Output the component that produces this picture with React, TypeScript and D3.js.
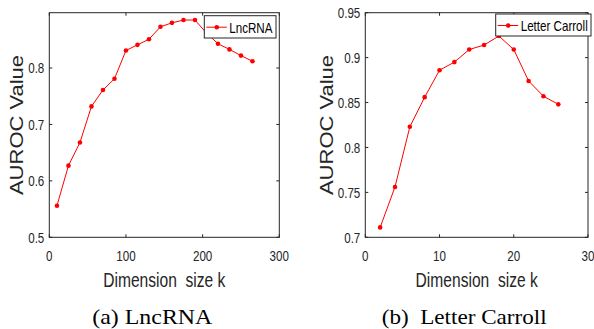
import React from "react";
import * as d3 from "d3";

const lncK = [10, 25, 40, 55, 70, 85, 100, 115, 130, 145, 160, 175, 190, 205, 220, 235, 250, 265];
const lncAuroc = [0.556, 0.627, 0.668, 0.732, 0.761, 0.781, 0.831, 0.841, 0.851, 0.873, 0.880, 0.885, 0.885, 0.862, 0.843, 0.833, 0.822, 0.812];
const lncXTicks = [0, 100, 200, 300];
const lncYTicks = [0.5, 0.6, 0.7, 0.8];

const letK = [2, 4, 6, 8, 10, 12, 14, 16, 18, 20, 22, 24, 26];
const letAuroc = [0.711, 0.756, 0.823, 0.856, 0.886, 0.895, 0.909, 0.914, 0.924, 0.909, 0.874, 0.857, 0.848];
const letXTicks = [0, 10, 20, 30];
const letYTicks = [0.7, 0.75, 0.8, 0.85, 0.9, 0.95];

const SANS = "'Liberation Sans', Arial, Helvetica, sans-serif";
const SERIF = "'Liberation Serif', 'Times New Roman', serif";
const AX = "#262626";
const SX = 0.8; // horizontal compression of the figure's glyphs

type PanelProps = {
  xs: number[]; ys: number[];
  xDomain: [number, number]; yDomain: [number, number];
  xTicks: number[]; yTicks: number[];
  left: number; right: number; top: number; bottom: number;
  legend: string; legendBox: [number, number, number, number];
  yLabelX: number; caption: string; captionX: number; captionLen: number;
  yFmt: (v: number) => string;
};

function HText(props: { x: number; y: number; size: number; anchor?: string; children: string; fill?: string }) {
  return (
    <text transform={`translate(${props.x},${props.y}) scale(${SX},1)`} textAnchor={props.anchor || "start"}
      fontFamily={SANS} fontSize={props.size} fill={props.fill || AX} style={{ whiteSpace: "pre" }}>
      {props.children}
    </text>
  );
}

function Panel(p: PanelProps) {
  const x = d3.scaleLinear().domain(p.xDomain).range([p.left, p.right]);
  const y = d3.scaleLinear().domain(p.yDomain).range([p.bottom, p.top]);
  const line = d3.line<number>().x((_, i) => x(p.xs[i])).y((d) => y(d));
  const tl = 3;
  const [lx, ly, lw, lh] = p.legendBox;
  const midX = (p.left + p.right) / 2;
  return (
    <g>
      <rect x={p.left} y={p.top} width={p.right - p.left} height={p.bottom - p.top} fill="white" stroke={AX} strokeWidth={1} />
      {p.xTicks.map((t) => (
        <g key={"x" + t}>
          <line x1={x(t)} x2={x(t)} y1={p.bottom} y2={p.bottom - tl} stroke={AX} />
          <line x1={x(t)} x2={x(t)} y1={p.top} y2={p.top + tl} stroke={AX} />
          <HText x={x(t)} y={p.bottom + 24} size={14.5} anchor="middle">{String(t)}</HText>
        </g>
      ))}
      {p.yTicks.map((t) => (
        <g key={"y" + t}>
          <line x1={p.left} x2={p.left + tl} y1={y(t)} y2={y(t)} stroke={AX} />
          <line x1={p.right} x2={p.right - tl} y1={y(t)} y2={y(t)} stroke={AX} />
          <HText x={p.left - 5} y={y(t) + 5.2} size={14.5} anchor="end">{p.yFmt(t)}</HText>
        </g>
      ))}
      <path d={line(p.ys) || ""} fill="none" stroke="#ff0000" strokeWidth={1} />
      {p.ys.map((v, i) => (
        <circle key={i} cx={x(p.xs[i])} cy={y(v)} r={2.3} fill="#ff0000" />
      ))}
      <rect x={lx} y={ly} width={lw} height={lh} fill="white" stroke={AX} strokeWidth={1} />
      <line x1={lx + 2} x2={lx + 22.5} y1={ly + 11.5} y2={ly + 11.5} stroke="#ff0000" />
      <circle cx={lx + 12.5} cy={ly + 11.5} r={2.3} fill="#ff0000" />
      <HText x={lx + 25} y={ly + 17.2} size={14.5} fill="#000">{p.legend}</HText>
      <text transform={`translate(${p.yLabelX},${(p.top + p.bottom) / 2}) rotate(-90) scale(1,${SX})`} textAnchor="middle"
        fontFamily={SANS} fontSize={22} fill={AX}>AUROC Value</text>
      <HText x={midX} y={p.bottom + 49.4} size={19.5} anchor="middle">{"Dimension  size k"}</HText>
      <text x={p.captionX} y={323.5} fontFamily={SERIF} fontSize={21.7} fill="#000"
        textLength={p.captionLen} lengthAdjust="spacingAndGlyphs" style={{ whiteSpace: "pre" }}>{p.caption}</text>
    </g>
  );
}

export default function App() {
  return (
    <svg width={594} height={329} style={{ position: "absolute", left: 0, top: 0, background: "white" }}>
      <rect width={594} height={329} fill="white" />
      <Panel xs={lncK} ys={lncAuroc} xDomain={[0, 300]} yDomain={[0.5, 0.898]}
        xTicks={lncXTicks} yTicks={lncYTicks}
        left={49.3} right={279.3} top={12.7} bottom={237.3}
        legend="LncRNA" legendBox={[204.3, 15.7, 71.7, 22.3]}
        yLabelX={23} caption="(a) LncRNA" captionX={92.3} captionLen={120}
        yFmt={(v) => d3.format(".1f")(v)} />
      <Panel xs={letK} ys={letAuroc} xDomain={[0, 30]} yDomain={[0.7, 0.95]}
        xTicks={letXTicks} yTicks={letYTicks}
        left={365.3} right={588} top={12.7} bottom={237.3}
        legend="Letter Carroll" legendBox={[495.7, 14, 95.3, 22]}
        yLabelX={332.7} caption="(b)  Letter Carroll" captionX={381.7} captionLen={165}
        yFmt={(v) => String(v)} />
    </svg>
  );
}
